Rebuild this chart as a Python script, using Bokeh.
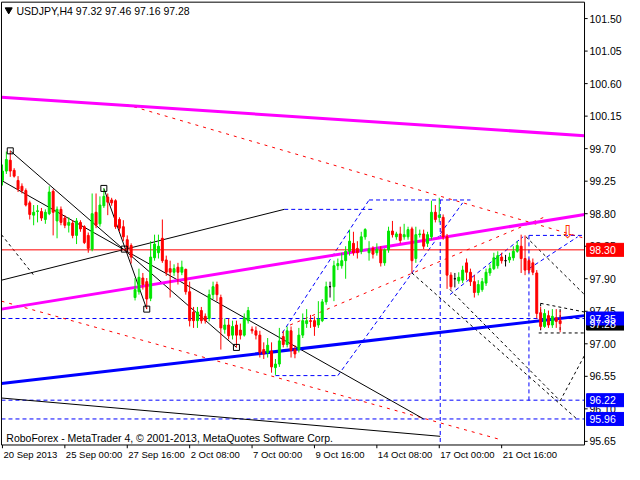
from bokeh.plotting import figure
from bokeh.models import Range1d
from bokeh.core.properties import value
from bokeh.embed import file_html
from bokeh.resources import INLINE

# ---------------- data (USDJPY H4, bar index 0 = 20 Sep 2013) ----------------
OPEN = [99.26, 99.39, 99.54, 99.40, 99.26, 99.18, 99.12, 98.95, 98.78, 98.83,
        98.83, 98.72, 98.80, 99.11, 98.70, 98.86, 98.74, 98.64, 98.67, 98.50,
        98.68, 98.62, 98.50, 98.31, 98.82, 98.66, 98.91, 99.03, 98.99, 98.98,
        98.72, 98.62, 98.44, 98.36, 97.64, 97.72, 97.91, 97.86, 97.63, 98.19,
        98.26, 98.46, 98.16, 98.04, 97.99, 98.06, 97.99, 98.03, 97.72, 97.44,
        97.32, 97.46, 97.38, 97.35, 97.68, 97.82, 97.64, 97.20, 97.26, 97.12,
        97.26, 97.19, 97.12, 97.32, 97.20, 97.18, 97.12, 96.92, 96.88, 96.90,
        96.67, 96.72, 97.10, 96.99, 97.18, 96.92, 96.92, 97.12, 97.28, 97.32,
        97.32, 97.26, 97.32, 97.58, 97.79, 97.79, 98.08, 98.08, 98.15, 98.28,
        98.39, 98.32, 98.28, 98.48, 98.26, 98.32, 98.26, 98.30, 98.12, 98.30,
        98.56, 98.48, 98.52, 98.48, 98.48, 98.59, 98.18, 98.51, 98.52, 98.39,
        98.48, 98.82, 98.75, 98.75, 98.48, 97.95, 97.90, 97.87, 97.88, 98.12,
        97.99, 97.86, 97.71, 97.75, 97.84, 97.98, 98.04, 98.08, 98.20, 98.15,
        98.16, 98.19, 98.28, 98.35, 98.18, 98.15, 98.12, 97.98, 97.43, 97.24,
        97.39, 97.26, 97.36, 97.32]
HIGH = [99.48, 99.66, 99.67, 99.43, 99.32, 99.22, 99.15, 98.98, 98.92, 98.92,
        98.88, 98.86, 99.18, 99.14, 98.90, 98.90, 98.78, 98.75, 98.71, 98.74,
        98.71, 98.64, 98.54, 99.08, 99.08, 99.04, 99.15, 99.08, 99.02, 99.00,
        98.75, 98.71, 98.50, 98.39, 97.91, 98.04, 97.98, 97.91, 98.42, 98.51,
        98.51, 98.72, 98.22, 98.15, 98.10, 98.12, 98.15, 98.04, 97.86, 97.51,
        97.51, 97.51, 97.42, 97.75, 97.86, 97.86, 97.68, 97.35, 97.35, 97.32,
        97.32, 97.28, 97.42, 97.51, 97.24, 97.24, 97.18, 97.02, 97.08, 97.02,
        96.79, 97.22, 97.18, 97.24, 97.24, 96.98, 97.22, 97.42, 97.48, 97.40,
        97.38, 97.59, 97.62, 97.86, 97.86, 98.15, 98.18, 98.26, 98.35, 98.58,
        98.55, 98.42, 98.55, 98.60, 98.42, 98.35, 98.39, 98.35, 98.32, 98.62,
        98.70, 98.55, 98.62, 98.66, 98.62, 98.62, 98.62, 98.58, 98.58, 98.55,
        98.98, 98.92, 99.02, 98.79, 98.52, 97.99, 97.98, 97.99, 98.08, 98.18,
        98.04, 97.95, 97.88, 97.91, 98.04, 98.10, 98.26, 98.28, 98.26, 98.23,
        98.26, 98.35, 98.42, 98.51, 98.50, 98.18, 98.18, 98.02, 97.51, 97.48,
        97.46, 97.48, 97.48, 97.46]
LOW = [99.19, 99.35, 99.31, 99.30, 99.10, 99.08, 98.90, 98.72, 98.64, 98.68,
       98.70, 98.66, 98.78, 98.50, 98.46, 98.64, 98.60, 98.54, 98.46, 98.38,
       98.55, 98.38, 98.26, 98.28, 98.60, 98.62, 98.88, 98.78, 98.91, 98.59,
       98.55, 98.42, 98.26, 98.11, 97.60, 97.68, 97.75, 97.48, 97.59, 98.15,
       98.18, 98.12, 97.94, 97.64, 97.94, 97.82, 97.95, 97.68, 97.24, 97.22,
       97.22, 97.28, 97.28, 97.31, 97.62, 97.59, 96.92, 97.14, 97.06, 97.06,
       96.95, 97.06, 97.10, 97.28, 97.14, 97.06, 96.81, 96.79, 96.81, 96.60,
       96.57, 96.68, 96.95, 96.95, 96.81, 96.80, 96.88, 97.08, 97.22, 97.22,
       97.11, 97.22, 97.30, 97.54, 97.64, 97.59, 98.02, 98.04, 97.90, 98.22,
       98.22, 98.18, 98.24, 98.44, 98.15, 98.18, 98.22, 98.07, 98.08, 98.26,
       98.47, 98.44, 98.39, 98.44, 98.44, 97.98, 98.12, 98.47, 98.31, 98.34,
       98.44, 98.68, 98.68, 98.44, 97.76, 97.75, 97.78, 97.83, 97.84, 97.88,
       97.80, 97.64, 97.67, 97.72, 97.80, 97.94, 98.02, 98.04, 98.11, 98.07,
       98.12, 98.15, 98.26, 97.98, 97.95, 97.98, 97.95, 97.35, 97.20, 97.22,
       97.22, 97.22, 97.22, 97.16]
CLOSE = [99.39, 99.55, 99.39, 99.32, 99.14, 99.12, 98.92, 98.79, 98.82, 98.84,
         98.74, 98.82, 99.10, 98.82, 98.86, 98.68, 98.64, 98.68, 98.50, 98.70,
         98.59, 98.40, 98.32, 98.80, 98.64, 98.92, 99.04, 98.96, 98.95, 98.62,
         98.60, 98.48, 98.32, 98.20, 97.75, 97.92, 97.82, 97.62, 98.20, 98.38,
         98.35, 98.15, 97.99, 97.99, 98.04, 97.99, 98.06, 97.72, 97.32, 97.32,
         97.44, 97.32, 97.32, 97.68, 97.79, 97.68, 97.22, 97.26, 97.11, 97.24,
         97.12, 97.12, 97.35, 97.46, 97.18, 97.12, 96.88, 96.86, 96.98, 96.68,
         96.72, 97.04, 96.99, 97.18, 96.91, 96.86, 97.12, 97.32, 97.32, 97.31,
         97.24, 97.34, 97.58, 97.79, 97.79, 98.08, 98.11, 98.15, 98.28, 98.42,
         98.26, 98.26, 98.48, 98.58, 98.31, 98.24, 98.31, 98.12, 98.30, 98.56,
         98.51, 98.52, 98.43, 98.51, 98.58, 98.15, 98.51, 98.52, 98.35, 98.51,
         98.82, 98.72, 98.78, 98.48, 97.95, 97.79, 97.90, 97.92, 98.02, 97.99,
         97.86, 97.71, 97.82, 97.86, 97.99, 98.04, 98.19, 98.22, 98.15, 98.15,
         98.20, 98.28, 98.36, 98.18, 98.02, 98.02, 97.99, 97.42, 97.24, 97.42,
         97.26, 97.38, 97.31, 97.28]

X_TICKS = [0, 16, 32, 48, 64, 80, 96, 112, 128]
X_LABELS = ["20 Sep 2013", "25 Sep 00:00", "27 Sep 16:00", "2 Oct 08:00", "7 Oct 00:00",
            "9 Oct 16:00", "14 Oct 08:00", "17 Oct 00:00", "21 Oct 16:00"]
Y_TICKS = [95.65, 96.10, 96.55, 97.00, 97.45, 97.90, 98.35, 98.80, 99.25, 99.70,
           100.15, 100.60, 101.05, 101.50]
Y_LABELS = ["95.65", "96.10", "96.55", "97.00", "97.45", "97.90", "98.35", "98.80", "99.25",
            "99.70", "100.15", "100.60", "101.05", "101.50"]

# chart window (bars / prices); the price scale lives to the right of X_R,
# the time scale below Y_B, both inside one frame
X_L, X_R = -0.25, 149.25
Y_B, Y_T = 95.60, 101.727
XR_MIN, XR_MAX = -0.5, 159.5
YR_MIN, YR_MAX = 95.33, 101.75
TAG_X = X_R + 5.4

# analysis objects (bar index, price)
MAGENTA_X0 = [X_L, X_L]; MAGENTA_Y0 = [100.41, 97.48]
MAGENTA_X1 = [X_R, X_R]; MAGENTA_Y1 = [99.88, 98.79]
BLUE_X0 = [X_L]; BLUE_Y0 = [96.45]; BLUE_X1 = [X_R]; BLUE_Y1 = [97.39]

BLACK_X0 = [2, X_L, 26, X_L, X_L]
BLACK_Y0 = [99.67, 99.26, 99.15, 97.88, 96.25]
BLACK_X1 = [60, 108, 37, 72.25, 112.25]
BLACK_Y1 = [96.95, 95.96, 97.48, 98.86, 95.72]

BDASH_X0 = [X_L, 105, 114.75, 134.25, 143, 138, 137.5, 138, 143]
BDASH_Y0 = [98.51, 97.98, 97.75, 98.48, 96.21, 97.56, 97.15, 97.56, 97.48]
BDASH_X1 = [8, 147.5, 143, X_R, X_R, X_R, X_R, 138, 143]
BDASH_Y1 = [97.95, 95.95, 96.21, 97.68, 96.84, 97.44, 97.15, 97.15, 97.15]

RDASH_X0 = [31.75, X_L, 73.75]
RDASH_Y0 = [100.31, 97.59, 97.26]
RDASH_X1 = [X_R, 128, 139.25]
RDASH_Y1 = [98.46, 95.67, 98.76]

BLDASH_X0 = [72.25, 71.75, 94, 70, 86, 112.25, 135, 135, 114.75, 135, X_L, X_L, X_L]
BLDASH_Y0 = [98.86, 97.15, 98.99, 96.56, 96.56, 98.99, 98.50, 98.50, 97.68, 98.04, 97.35, 96.22, 95.96]
BLDASH_X1 = [95, 94, 120, 86, 118, 112.25, 135, X_R, 133.5, 147.5, X_R, X_R, X_R]
BLDASH_Y1 = [98.86, 98.99, 98.99, 96.56, 98.95, Y_B, 96.19, 98.50, 98.48, 98.48, 97.35, 96.22, 95.96]

RED_LEVEL = 98.30
PIVOT_X = [2, 26, 37, 60, 31.25]
PIVOT_Y = [99.67, 99.15, 97.48, 96.95, 98.31]
ARROW_X, ARROW_Y = 145, 98.55

TAG_Y = [97.28, 98.30, 97.35, 96.22, 95.96]
TAG_TEXT = ["97.28", "98.30", "97.35", "96.22", "95.96"]
TAG_COLOR = ["black", "#FF0000", "#0000FF", "#0000FF", "#0000FF"]

HEADER = "USDJPY,H4  97.32 97.46 97.16 97.28"
FOOTER = "RoboForex - MetaTrader 4, \u00a9 2001-2013, MetaQuotes Software Corp."

FONT = value("Liberation Sans")
FS = value("10.5px")
FS_X = value("9.5px")

# ---------------- figure ----------------
p = figure(width=624, height=464, output_backend="svg", toolbar_location=None,
           x_range=Range1d(XR_MIN, XR_MAX), y_range=Range1d(YR_MIN, YR_MAX),
           x_axis_location=None, y_axis_location=None,
           min_border_left=0, min_border_right=0, min_border_top=0, min_border_bottom=0)
p.xgrid.visible = False
p.ygrid.visible = False
p.outline_line_color = None
p.background_fill_color = "white"
p.border_fill_color = "white"

# overlays (drawn under the candles)
p.segment(BLDASH_X0, BLDASH_Y0, BLDASH_X1, BLDASH_Y1, line_color="#0000FF", line_width=1, line_dash="4 3")
p.segment(RDASH_X0, RDASH_Y0, RDASH_X1, RDASH_Y1, line_color="#FF0000", line_width=1, line_dash="3 5")
p.segment(BDASH_X0, BDASH_Y0, BDASH_X1, BDASH_Y1, line_color="black", line_width=1, line_dash="3 3")
p.segment(BLACK_X0, BLACK_Y0, BLACK_X1, BLACK_Y1, line_color="black", line_width=1)
p.segment([X_L], [RED_LEVEL], [X_R], [RED_LEVEL], line_color="#FF0000", line_width=1)
p.segment(MAGENTA_X0, MAGENTA_Y0, MAGENTA_X1, MAGENTA_Y1, line_color="#FF00FF", line_width=3)
p.segment(BLUE_X0, BLUE_Y0, BLUE_X1, BLUE_Y1, line_color="#0000FF", line_width=3)

# candles
idx = list(range(len(OPEN)))
colors = ["#00E600" if c > o else ("#FF0000" if c < o else "black") for o, c in zip(OPEN, CLOSE)]
tops = [max(o, c) for o, c in zip(OPEN, CLOSE)]
bots = [min(o, c) for o, c in zip(OPEN, CLOSE)]
p.segment(idx, HIGH, idx, LOW, line_color=colors, line_width=1)
p.vbar(x=idx, top=tops, bottom=bots, width=0.5, fill_color=colors, line_color=colors, line_width=1)

# pivot markers
p.scatter(PIVOT_X, PIVOT_Y, marker="square", size=6, fill_alpha=0, line_color="black", line_width=1)

# arrow
p.text([ARROW_X], [ARROW_Y], text=["\u21e9"], text_color="#FF3300", text_font=value("DejaVu Sans"),
       text_font_size=value("18px"), text_align="center", text_baseline="middle")

# header / footer
p.scatter([1.6], [101.62], marker="inverted_triangle", size=7, color="black")
p.text([3.6], [101.61], text=[HEADER], text_font=FONT, text_font_size=FS,
       text_color="black", text_align="left", text_baseline="middle")
p.text([1.0], [95.70], text=[FOOTER], text_font=FONT, text_font_size=FS,
       text_color="black", text_align="left", text_baseline="middle")

# chart border (right edge doubles as price axis, bottom edge as time axis)
p.quad(left=[X_L], right=[X_R], bottom=[Y_B], top=[Y_T], fill_alpha=0, line_color="black", line_width=1)

# price scale: ticks + labels
p.segment([X_R] * len(Y_TICKS), Y_TICKS, [X_R + 0.8] * len(Y_TICKS), Y_TICKS, line_color="black")
p.text([X_R] * len(Y_TICKS), Y_TICKS, text=Y_LABELS, x_offset=5, text_font=FONT, text_font_size=FS,
       text_color="black", text_align="left", text_baseline="middle")

# time scale: ticks + labels (left aligned as in MT4)
p.segment(X_TICKS, [Y_B] * len(X_TICKS), X_TICKS, [Y_B - 0.045] * len(X_TICKS), line_color="black")
p.text(X_TICKS, [Y_B] * len(X_TICKS), text=X_LABELS, x_offset=1, y_offset=4, text_font=FONT,
       text_font_size=FS_X, text_color="black", text_align="left", text_baseline="top")

# price tags on the scale
p.rect([TAG_X] * len(TAG_Y), TAG_Y, width=38, height=13, width_units="screen", height_units="screen",
       fill_color=TAG_COLOR, line_color=TAG_COLOR)
p.text([X_R] * len(TAG_Y), TAG_Y, text=TAG_TEXT, x_offset=5, text_font=FONT, text_font_size=FS,
       text_color="white", text_align="left", text_baseline="middle")

open("out.html", "w").write(file_html(p, INLINE))
